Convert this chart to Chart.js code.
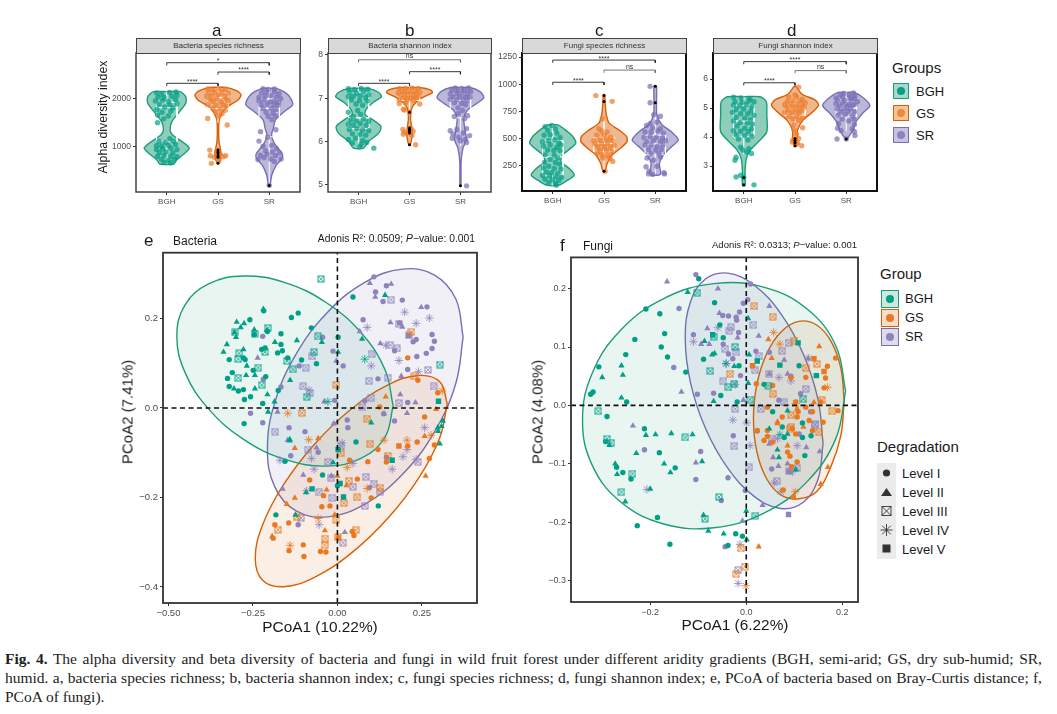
<!DOCTYPE html>
<html>
<head>
<meta charset="utf-8">
<script src="https://cdn.jsdelivr.net/npm/chart.js@4"></script>
<style>
body { margin:0; background:#fff; width:1057px; height:714px; position:relative; overflow:hidden; font-family:"Liberation Sans",sans-serif; color:#1a1a1a; }
canvas { position:absolute; }
.t { position:absolute; white-space:nowrap; line-height:1; }
.rot { position:absolute; white-space:nowrap; line-height:1; transform:translate(-50%,-50%) rotate(-90deg); }
.mid { position:absolute; white-space:nowrap; line-height:1; transform:translate(-50%,-50%); }
.strip { position:absolute; background:#d9d9d9; border:1.5px solid #444; box-sizing:border-box; text-align:center; font-size:8px; line-height:13px; height:16px; top:38px; color:#333; }
.key { position:absolute; box-sizing:border-box; border:1.5px solid; }
.key i { position:absolute; left:50%; top:50%; width:8px; height:8px; margin:-4px; border-radius:50%; }
.cap { position:absolute; left:5px; white-space:nowrap; font-family:"Liberation Serif",serif; font-size:15.5px; line-height:1; color:#222; }
.just { width:1037px; white-space:normal; text-align:justify; text-align-last:justify; }
</style>
</head>
<body>
<canvas id="chartA" width="210" height="174" style="left:94px;top:36px"></canvas>
<canvas id="chartB" width="189" height="174" style="left:306px;top:36px"></canvas>
<canvas id="chartC" width="194" height="174" style="left:496px;top:36px"></canvas>
<canvas id="chartD" width="190" height="174" style="left:691px;top:36px"></canvas>
<canvas id="chartE" width="364" height="392" style="left:118px;top:245px"></canvas>
<canvas id="chartF" width="335" height="385" style="left:528px;top:250px"></canvas>

<div class="t" style="left:212px;top:22px;font-size:17px">a</div>
<div class="t" style="left:405px;top:22px;font-size:17px">b</div>
<div class="t" style="left:595px;top:22px;font-size:17px">c</div>
<div class="t" style="left:787px;top:22px;font-size:17px">d</div>
<div class="strip" style="left:136px;width:165px">Bacteria species richness</div>
<div class="strip" style="left:328px;width:164px">Bacteria shannon index</div>
<div class="strip" style="left:522px;width:165px">Fungi species richness</div>
<div class="strip" style="left:713px;width:165px">Fungi shannon index</div>
<div class="rot" style="left:103px;top:117px;font-size:12.3px">Alpha diversity index</div>

<div class="t" style="left:892px;top:60px;font-size:15px">Groups</div>
<div class="key" style="left:893px;top:83px;width:16px;height:16px;border-color:#1b9e77;background:#a8d8cb"><i style="background:#00a087"></i></div>
<div class="key" style="left:893px;top:105px;width:16px;height:16px;border-color:#d95f02;background:#f6c39b"><i style="background:#ee8a3c"></i></div>
<div class="key" style="left:893px;top:127px;width:16px;height:16px;border-color:#7570b3;background:#c8c5e2"><i style="background:#8e83be"></i></div>
<div class="t" style="left:916px;top:85px;font-size:13px">BGH</div>
<div class="t" style="left:916px;top:107px;font-size:13px">GS</div>
<div class="t" style="left:916px;top:129px;font-size:13px">SR</div>

<div class="t" style="left:144px;top:232px;font-size:17px">e</div>
<div class="t" style="left:173px;top:235px;font-size:12px">Bacteria</div>
<div class="t" style="right:582px;top:234px;font-size:10.3px">Adonis R²: 0.0509; <em>P</em>−value: 0.001</div>
<div class="rot" style="left:127px;top:412px;font-size:15px">PCoA2 (7.41%)</div>
<div class="mid" style="left:320px;top:627px;font-size:15.4px">PCoA1 (10.22%)</div>
<div class="t" style="left:560px;top:237px;font-size:17px">f</div>
<div class="t" style="left:583px;top:240px;font-size:12px">Fungi</div>
<div class="t" style="right:200px;top:240px;font-size:9.5px">Adonis R²: 0.0313; <em>P</em>−value: 0.001</div>
<div class="rot" style="left:537px;top:412px;font-size:15px">PCoA2 (4.08%)</div>
<div class="mid" style="left:735px;top:625px;font-size:15.4px">PCoA1 (6.22%)</div>

<div class="t" style="left:880px;top:266px;font-size:15px">Group</div>
<div class="key" style="left:881px;top:290px;width:18px;height:18px;border-color:#1b9e77;background:#cfe7e0"><i style="background:#00a087"></i></div>
<div class="key" style="left:881px;top:309px;width:18px;height:18px;border-color:#d95f02;background:#f3ddcd"><i style="background:#e9781e"></i></div>
<div class="key" style="left:881px;top:328px;width:18px;height:18px;border-color:#7570b3;background:#dddbec"><i style="background:#8e83be"></i></div>
<div class="t" style="left:905px;top:292px;font-size:13px">BGH</div>
<div class="t" style="left:905px;top:311px;font-size:13px">GS</div>
<div class="t" style="left:905px;top:330px;font-size:13px">SR</div>

<div class="t" style="left:877px;top:439px;font-size:15px">Degradation</div>
<svg style="position:absolute;left:877px;top:463px" width="19" height="96">
<rect width="19" height="96" fill="#ebebeb"/>
<circle cx="9.5" cy="10" r="3.6" fill="#333"/>
<path d="M9.5 25 L15 33 L4 33 Z" fill="#333"/>
<g fill="none" stroke="#333" stroke-width="0.9"><rect x="5" y="43.5" width="9" height="9"/><path d="M5 43.5 L14 52.5 M14 43.5 L5 52.5"/></g>
<path d="M9.5 61 V73 M3.5 67 H15.5 M5.2 62.7 L13.8 71.3 M13.8 62.7 L5.2 71.3" stroke="#333" stroke-width="0.9"/>
<rect x="5.5" y="81.5" width="8" height="8" fill="#333"/>
</svg>
<div class="t" style="left:902px;top:467px;font-size:13px">Level I</div>
<div class="t" style="left:902px;top:486px;font-size:13px">Level II</div>
<div class="t" style="left:902px;top:505px;font-size:13px">Level III</div>
<div class="t" style="left:902px;top:524px;font-size:13px">Level IV</div>
<div class="t" style="left:902px;top:543px;font-size:13px">Level V</div>

<div class="cap just" style="top:651px"><b>Fig. 4.</b> The alpha diversity and beta diversity of bacteria and fungi in wild fruit forest under different aridity gradients (BGH, semi-arid; GS, dry sub-humid; SR,</div>
<div class="cap just" style="top:670px">humid. a, bacteria species richness; b, bacteria shannon index; c, fungi species richness; d, fungi shannon index; e, PCoA of bacteria based on Bray-Curtis distance; f,</div>
<div class="cap" style="top:689px">PCoA of fungi).</div>

<script>
// groups and colours
var groups = ["BGH","GS","SR"];
var lineCols = ["#1b9e77","#d95f02","#7570b3"];
var fillCols = ["rgba(27,158,119,0.5)","rgba(217,95,2,0.45)","rgba(117,112,179,0.5)"];
var dotCols = ["rgba(0,160,135,0.7)","rgba(238,125,45,0.72)","rgba(120,110,182,0.7)"];
var solidCols = ["#00a087","#e9781e","#8e83be"];
var paleCols = ["rgba(27,158,119,0.1)","rgba(217,95,2,0.1)","rgba(117,112,179,0.1)"];

// violin outlines: value, half width
var aVals = [[2155,2050,1908,1732,1520,1345,1240,1060,958,852,710,627],[2246,2170,2085,1980,1800,1590,1380,1100,923,782,640],[2225,2085,1887,1732,1556,1380,1240,1060,852,747,606,394,170]];
var aWide = [[.26,.37,.37,.25,.10,.065,.115,.35,.44,.35,.19,.14],[.16,.37,.45,.39,.14,.03,.013,.02,.05,.06,.013],[.14,.37,.46,.29,.12,.08,.045,.10,.25,.25,.14,.05,.013]];
var bVals = [[7.23,7.14,7.04,6.91,6.73,6.62,6.52,6.35,6.19,6,5.85],[7.25,7.19,7.13,7.04,6.91,6.77,6.54,6.31,6.12,5.92],[7.25,7.15,7.02,6.88,6.73,6.54,6.27,6.04,5.85,5.54,4.98]];
var bWide = [[.19,.39,.45,.29,.14,.13,.26,.44,.39,.19,.10],[.19,.42,.45,.29,.13,.045,.02,.045,.05,.013],[.19,.39,.46,.32,.14,.065,.09,.115,.05,.013,.01]];
var cVals = [[626,580,519,457,410,349,287,225,164,117,71],[904,812,719,642,580,519,472,411,349,272,200],[981,842,719,627,565,488,426,349,272,170]];
var cWide = [[.10,.245,.39,.45,.35,.19,.16,.32,.42,.29,.12],[.013,.025,.045,.10,.29,.44,.45,.32,.16,.065,.02],[.025,.025,.032,.13,.31,.45,.32,.16,.08,.10]];
var dVals = [[5.39,5.22,4.76,4.18,3.84,3.55,3.26,2.8,2.32],[5.74,5.47,5.28,5.1,4.87,4.59,4.24,3.95,3.67],[5.54,5.33,5.08,4.82,4.53,4.24,3.93]];
var dWide = [[.32,.44,.45,.45,.29,.13,.05,.025,.025],[.02,.14,.39,.46,.35,.16,.05,.045,.013],[.16,.35,.46,.32,.19,.13,.013]];

// box plots: low, q1, median, q3, high
var aBox = [[627,1110,1820,1930,2155],[1500,1800,2040,2130,2246],[170,1200,1800,2000,2225]];
var bBox = [[5.85,6.3,6.55,7.12,7.23],[6.75,6.95,7.08,7.17,7.25],[5.9,6.55,6.95,7.1,7.25]];
var cBox = [[71,165,330,480,626],[215,380,455,510,680],[170,350,450,530,720]];
var dBox = [[3.4,4,4.55,5.1,5.39],[4.3,4.75,4.97,5.15,5.45],[4.2,4.7,5,5.22,5.54]];

// jittered samples: offset from the group, value
var aPts = [
[[-.2,2130],[-.1,2100],[.05,2140],[.18,2150],[.2,2080],[-.17,2040],[-.05,2030],[.1,2060],[-.22,1960],[-.08,1970],[.03,1950],[.17,1990],[-.15,1890],[.06,1880],[.2,1900],[-.04,1830],[.12,1810],[-.19,1780],[-.09,1720],[.08,1740],[-.18,1660],[.03,1640],[-.18,1500],[-.06,1580],[.06,1160],[-.15,1100],[-.03,1080],[.13,1110],[-.2,1010],[-.1,1000],[.03,1020],[.17,1040],[-.2,930],[-.08,950],[.08,960],[.2,930],[-.14,870],[-.02,880],[.12,860],[-.18,790],[-.05,800],[.08,790],[.2,780],[-.1,720],[.03,700],[.15,720],[-.05,660],[.08,650]],
[[-.2,2210],[-.1,2190],[.02,2220],[.14,2200],[-.18,2130],[-.06,2140],[.08,2150],[.2,2120],[-.22,2060],[-.12,2070],[.01,2090],[.12,2060],[-.16,2000],[-.03,2010],[.17,2010],[-.1,1950],[.06,1940],[.2,1960],[-.2,1880],[-.04,1870],[.1,1880],[.16,1850],[-.1,1800],[.04,1790],[.14,1760],[-.04,1720],[.08,1690],[.02,1640],[-.2,1590],[.18,1450],[-.16,920],[0,920],[-.15,800],[.15,800],[.05,830],[-.13,640],[-.03,880],[.1,780],[-.07,770],[.02,700]],
[[-.12,2220],[-.02,2200],[.1,2210],[-.15,2130],[-.05,2140],[.1,2150],[.19,2110],[-.2,2030],[-.08,2060],[.03,2070],[.14,2040],[.22,2010],[-.2,1960],[-.1,1980],[.02,1940],[.1,1960],[.18,1930],[-.16,1880],[-.04,1890],[.09,1880],[.17,1870],[-.12,1800],[.04,1800],[.13,1780],[-.06,1720],[.07,1700],[-.02,1630],[.12,1640],[.05,1560],[-.17,1310],[.13,1350],[-.2,1110],[-.03,1190],[.05,1020],[-.12,1000],[.14,950],[-.07,900],[.06,880],[.2,860],[-.17,810],[-.04,830],[.12,800],[.23,730],[-.22,720],[-.1,760],[.03,730],[.1,680],[0,175]]
];
var bPts = [
[[-.2,7.22],[-.08,7.2],[.05,7.23],[.18,7.21],[-.17,7.14],[-.04,7.12],[.1,7.15],[.2,7.08],[-.2,7.04],[-.1,7.05],[.03,7.06],[.14,7.02],[-.14,6.96],[.02,6.95],[.17,6.94],[-.05,6.87],[.08,6.84],[-.2,6.68],[-.1,6.58],[.04,6.63],[-.02,6.72],[-.16,6.5],[-.05,6.48],[.1,6.52],[.2,6.47],[-.2,6.4],[-.1,6.38],[.03,6.42],[.15,6.38],[-.18,6.28],[-.03,6.3],[.08,6.27],[.2,6.25],[-.12,6.18],[.03,6.17],[.14,6.15],[-.2,6.05],[-.06,6.08],[.08,6.03],[-.12,5.97],[.05,5.94],[.16,5.98],[.3,5.85],[.02,5.88]],
[[-.2,7.22],[-.08,7.23],[.05,7.24],[.17,7.22],[-.15,7.17],[-.02,7.18],[.1,7.17],[.2,7.14],[-.22,7.12],[-.1,7.13],[.03,7.12],[.14,7.11],[-.17,7.07],[-.04,7.08],[.08,7.06],[.18,7.05],[-.1,7.02],[.02,7],[.13,7.01],[-.2,6.96],[-.05,6.96],[.08,6.95],[-.2,6.88],[-.08,6.9],[.2,6.87],[-.12,6.75],[-.1,6.73],[-.13,6.28],[-.1,6.22],[-.12,6.17],[.03,6.3],[.07,6.24],[-.03,6.2],[.05,6.15],[.12,5.93],[0,6.68]],
[[-.1,7.24],[.02,7.23],[.16,7.24],[-.17,7.18],[-.05,7.17],[.08,7.18],[.2,7.15],[-.2,7.1],[-.08,7.11],[.03,7.12],[.14,7.1],[-.15,7.04],[-.02,7.05],[.1,7.04],[.19,7.03],[-.2,6.98],[-.07,6.97],[.05,6.98],[.13,6.95],[-.12,6.9],[.02,6.88],[.1,6.85],[-.05,6.78],[.04,6.72],[-.04,6.65],[.14,6.6],[-.12,6.58],[.08,6.53],[-.2,6.25],[-.15,6.18],[.12,6.3],[.18,6.14],[-.07,6.28],[.05,6.2],[-.16,6.08],[.1,6.05],[-.03,6.1],[0,6.02],[.12,5.98],[.12,4.98]]
];
var cPts = [
[[-.15,610],[-.02,620],[-.1,575],[.05,590],[-.17,530],[-.05,535],[.08,550],[.14,510],[-.2,470],[-.08,480],[.04,490],[.12,460],[-.18,430],[-.05,440],[.08,420],[.16,440],[-.1,395],[.02,390],[.14,390],[-.15,350],[.03,345],[-.05,310],[.1,320],[-.16,280],[.05,280],[.13,265],[-.08,245],[-.18,230],[.03,225],[.16,220],[-.12,190],[-.02,185],[.1,180],[-.2,160],[-.06,155],[.06,150],[.17,145],[-.15,125],[-.01,120],[.12,115],[-.08,95],[.05,90],[.07,70]],
[[-.16,895],[.16,842],[-.03,680],[-.1,590],[-.05,570],[.06,560],[-.14,530],[0,530],[.13,510],[-.2,480],[-.08,490],[.05,495],[.16,485],[-.17,450],[-.05,455],[.07,460],[.2,440],[-.12,420],[.01,425],[.13,420],[-.07,390],[.05,390],[-.13,365],[.16,375],[-.03,350],[.08,340],[-.02,320],[.12,315],[.17,290],[.02,200]],
[[-.1,980],[-.1,830],[-.03,720],[.1,705],[-.1,640],[.03,650],[-.17,620],[-.05,600],[.1,590],[-.2,560],[-.08,560],[.05,570],[.16,550],[-.22,510],[-.1,520],[.02,510],[.14,505],[-.17,470],[-.04,480],[.1,470],[.2,480],[-.2,440],[-.08,440],[.04,430],[.15,440],[-.13,400],[.01,395],[.12,400],[-.08,360],[.07,360],[-.16,320],[.1,330],[-.03,300],[-.18,240],[-.12,200],[-.05,170],[.17,185],[.03,245],[-.13,175],[.18,175]]
];
var dPts = [
[[-.2,5.37],[-.05,5.35],[.12,5.33],[-.17,5.22],[-.03,5.2],[.1,5.25],[.2,5.22],[-.2,5.1],[-.08,5.08],[.05,5.12],[.16,5.05],[-.15,4.95],[0,4.96],[.14,4.9],[-.22,4.85],[-.06,4.8],[.08,4.8],[.2,4.75],[-.15,4.68],[.02,4.65],[.13,4.6],[-.2,4.55],[-.07,4.5],[.07,4.48],[.17,4.45],[-.13,4.38],[.02,4.3],[.15,4.28],[-.2,4.22],[-.06,4.2],[.09,4.18],[-.15,4.08],[.02,4.05],[.16,4.03],[-.1,3.93],[.08,3.9],[-.06,3.65],[.1,3.6],[-.02,3.55],[.15,3.43],[.06,3.48],[-.15,3.3],[-.17,3.2],[-.15,2.62],[-.06,2.68],[.2,2.35],[0,2.6]],
[[.07,5.72],[0,5.45],[-.12,5.37],[.03,5.38],[.14,5.3],[-.15,5.22],[-.03,5.24],[.1,5.22],[.2,5.18],[-.2,5.12],[-.08,5.14],[.04,5.12],[.15,5.1],[-.17,5.03],[-.04,5.02],[.08,5],[.18,5.03],[-.13,4.93],[.02,4.92],[.13,4.92],[-.2,4.85],[-.06,4.83],[.08,4.82],[-.12,4.72],[.03,4.72],[.14,4.65],[-.04,4.62],[.07,4.57],[-.02,4.42],[.15,4.32],[-.02,4.25],[.03,4.1],[-.04,3.9],[-.05,3.82],[.07,3.95],[.05,3.8],[.13,3.7],[.03,3.75]],
[[-.05,5.5],[.14,5.52],[-.12,5.45],[.05,5.45],[.17,5.42],[-.2,5.35],[-.07,5.38],[.08,5.36],[.16,5.33],[-.17,5.25],[-.03,5.26],[.1,5.27],[.22,5.22],[-.2,5.15],[-.07,5.18],[.05,5.13],[.17,5.14],[-.13,5.06],[.01,5.05],[.12,5.08],[-.18,4.98],[-.04,4.97],[.08,4.98],[-.1,4.88],[.04,4.88],[.16,4.87],[-.16,4.75],[-.02,4.78],[.12,4.72],[-.08,4.62],[.15,4.62],[-.15,4.47],[.05,4.55],[.16,4.43],[-.17,4.3],[.12,4.28],[-.1,4.22],[.16,4.18],[.17,4.05],[-.18,3.93],[0,3.93]]
];

// outliers in black
var aOut = [[],[920,880,850,800,770,640],[170]];
var bOut = [[],[6.68,6.32,6.28,6.24,6.2,5.93],[4.98]];
var cOut = [[],[895,840,200],[980,830]];
var dOut = [[2.6,2.35],[3.95,3.88,3.8,3.7],[3.93]];

// significance brackets: from, to, height, label
var aBrk = [[1,3,2767,"*"],[2,3,2570,"****"],[1,2,2331,"****"]];
var bBrk = [[1,3,7.89,"ns"],[2,3,7.615,"****"],[1,2,7.346,"****"]];
var cBrk = [[1,3,1222,"****"],[2,3,1130,"ns"],[1,2,1018,"****"]];
var dBrk = [[1,3,6.6,"****"],[2,3,6.29,"ns"],[1,2,5.87,"****"]];

// PCoA bacteria, group by degradation level
var eBgh1 = [[-.136,.202],[-.116,.212],[-.259,.197],[-.246,.164],[-.207,.171],[-.167,.166],[-.077,.179],[-.32,.108],[-.311,.079],[-.325,.066],[-.32,.048],[-.293,.038],[-.278,.041],[-.275,.019],[-.257,.025],[-.221,.01],[-.276,-.035],[-.273,.108],[-.278,.112],[-.224,.131],[-.214,.134],[-.177,.123],[-.163,.128],[-.167,.142],[-.147,.112],[-.106,.107],[-.062,.099],[-.175,.039],[-.212,.07],[-.249,.084],[.002,.158],[.046,.248],[-.218,.217],[.055,-.076],[-.155,-.119],[-.182,-.239],[-.044,-.15],[.121,-.219],[0,-.174]];
var eBgh2 = [[-.298,.192],[-.286,.18],[-.276,.189],[-.246,.175],[-.304,.169],[-.3,.158],[-.327,.142],[-.337,.125],[-.278,.131],[-.268,.094],[-.244,.073],[-.27,.073],[-.306,.043],[-.244,.043],[-.207,.03],[-.186,.014],[-.205,-.009],[-.185,.147],[-.12,.151],[-.046,.147],[.002,.125],[.073,.154],[-.14,.062],[.141,.252],[-.219,.221],[-.209,.173],[-.141,-.07],[.1,-.033],[.297,-.044],[.312,-.029],[-.013,-.122],[-.141,-.073],[-.093,-.189],[-.124,-.239],[.303,-.08],[.298,-.052],[.308,-.041]];
var eBgh3 = [[-.049,.288],[-.303,.169],[-.245,.166],[-.206,.179],[-.057,.16],[-.291,.122],[-.293,.109],[-.234,.09],[-.214,.125],[-.15,.105],[-.131,.086],[-.069,.125],[-.293,.067],[-.224,.051],[-.091,.025],[.303,.097]];
var eBgh4 = [[.081,.109],[-.028,.014]];
var eBgh5 = [[.299,.015],[.162,-.117],[-.075,-.181],[.018,-.199],[.008,-.169],[.002,-.093]];
var eGs1 = [[-.19,-.291],[-.185,-.261],[-.144,-.257],[-.143,-.319],[-.101,-.306],[-.099,-.332],[-.05,-.321],[-.034,-.322],[.002,-.29],[.044,-.276],[.049,-.285],[-.046,-.221],[-.022,-.219],[-.082,-.161],[-.041,-.196],[.059,-.159],[.09,-.12],[.145,-.121],[.1,-.201],[.272,-.113],[.236,-.076],[.208,-.085],[.12,-.093],[.036,-.117],[.287,-.083],[.125,.002],[.258,-.02],[.297,.034],[.208,.112],[.238,.062]];
var eGs2 = [[-.193,-.287],[-.037,-.274],[-.126,-.201],[-.15,-.215],[-.032,-.183],[-.008,-.239],[.027,-.173],[0,-.152],[.261,-.152],[.258,-.063],[-.126,-.09],[.143,.025],[.292,-.003],[-.057,-.068]];
var eGs3 = [[-.176,-.272],[-.12,-.244],[-.036,-.292],[-.038,-.307],[.054,-.273],[.002,-.289],[-.003,-.25],[.019,-.213],[.059,-.2],[.034,-.163],[.127,-.178],[.096,-.08],[.01,-.101],[.149,-.107],[-.003,.052],[-.105,-.011],[.219,.17],[.087,-.024],[.228,.071]];
var eGs4 = [[-.14,-.307],[-.057,-.247],[.029,-.133],[.088,-.18],[.206,-.072],[.138,-.072],[.277,-.061],[-.085,-.071],[-.147,-.012],[.31,.038]];
var eGs5 = [[.182,-.085]];
var eSr1 = [[.108,.293],[.145,.273],[.113,.259],[.135,.238],[.192,.241],[.265,.226],[.076,.197],[.184,.19],[.28,.164],[.287,.149],[.233,.153],[.224,.148],[.28,.133],[.169,.128],[.235,.115],[.263,.122],[.208,.086],[.12,.065],[.017,.094],[-.013,.127],[-.044,.158],[-.221,.16],[-.113,.094],[-.167,.047],[-.257,-.012],[-.221,-.033],[-.143,-.044],[-.096,-.053],[.081,.016],[.029,-.027],[.137,-.013],[.169,-.029],[.208,.012],[-.138,-.107],[-.057,-.099],[.031,-.044],[-.116,-.261],[.095,-.178],[.145,-.11],[-.219,.064],[-.008,.017]];
var eSr2 = [[.096,.279],[.159,.277],[.112,.248],[.248,.225],[.157,.191],[.192,.181],[.127,.144],[.066,.171],[-.236,.112],[-.003,.105],[-.039,.014],[-.177,-.009],[.206,-.012],[.186,.03],[.231,.012],[.138,-.013],[-.011,-.035],[.189,.071],[-.147,-.072],[-.101,-.15],[-.162,-.181],[.022,-.278],[-.062,-.089],[-.018,-.152]];
var eSr3 = [[.159,.242],[.182,.188],[.211,.162],[.176,.133],[.157,.14],[.101,.12],[-.074,.115],[-.094,.09],[.268,.085],[.094,.06],[.149,.068],[.285,.048],[-.101,.048],[-.082,.033],[.1,.023],[.181,.011],[.074,.003],[-.185,-.053],[-.087,-.093],[-.028,-.121],[-.018,-.156],[.084,-.154],[.108,-.169],[.127,-.187],[.046,-.176],[-.054,-.189],[.081,-.219],[-.108,-.246],[.017,-.301],[.01,-.085],[.238,-.12],[-.015,-.201]];
var eSr4 = [[.199,.214],[.272,.201],[.233,.189],[.088,.18],[.182,.106],[.24,.081],[.143,.14],[.1,.094],[-.084,.04],[.258,-.044],[-.17,-.117],[-.077,-.113],[-.069,-.137],[.162,-.137],[.194,-.109],[.233,-.115],[-.054,-.261],[-.091,-.185],[.046,-.124],[.014,-.078],[.206,-.093]];
var eSr5 = [[.211,.162]];

// PCoA fungi
var fBgh1 = [[-.099,.217],[-.209,.165],[-.18,.157],[-.17,.123],[-.232,.113],[-.177,.1],[-.164,.083],[-.251,.087],[-.307,.066],[-.319,.023],[-.324,.019],[-.249,.006],[-.29,-.019],[-.212,-.04],[-.126,.057],[-.066,.176],[-.055,.138],[-.048,.116],[-.089,.079],[-.053,.017],[-.019,.006],[-.015,.068],[.037,.036],[.055,-.011],[.11,.068],[.117,-.03],[-.293,-.062],[-.27,-.106],[-.257,-.115],[-.24,-.126],[-.181,-.081],[-.148,-.107],[-.185,-.192],[-.227,-.206],[-.159,-.238],[-.038,-.24],[-.022,-.22],[-.008,-.224],[.079,-.055],[.122,-.086],[.135,-.052],[.117,-.055],[.075,-.037]];
var fBgh2 = [[-.122,.194],[.004,.149],[-.066,.089],[-.071,.087],[-.087,.11],[.006,.087],[-.025,.067],[-.068,.007],[.004,.038],[-.26,.068],[-.3,.048],[-.257,.052],[-.26,.013],[-.209,-.051],[-.189,-.05],[-.156,-.048],[-.112,-.05],[.086,-.009],[-.285,-.068],[-.273,-.1],[-.269,-.118],[-.229,-.082],[-.171,-.1],[-.158,-.115],[-.092,-.096],[-.2,-.143],[-.252,-.165],[-.089,-.188],[-.079,-.215],[-.047,-.22],[.001,-.23],[0,-.181],[.048,-.04],[.065,-.076],[.068,-.089],[.103,-.11],[.086,-.049]];
var fBgh3 = [[-.102,.193],[-.068,.118],[-.075,.059],[-.037,.031],[-.023,.1],[-.025,.037],[.008,.01],[.046,.034],[.119,.011],[-.308,-.01],[-.29,-.057],[-.127,-.055],[-.281,-.064],[-.237,-.117],[-.26,-.149],[-.057,-.157],[.019,-.189],[-.086,-.194]];
var fBgh4 = [[-.042,.072],[.07,-.05]];
var fBgh5 = [[-.07,.121],[.07,.069],[.146,.051],[.108,.107],[.023,.076]];
var fGs1 = [[.186,.081],[.169,.067],[.165,.047],[.162,.03],[.191,-.009],[.124,.048],[.093,.048],[.021,.037],[.055,.034],[.103,.006],[.124,-.003],[.108,-.011],[.138,-.011],[.155,.006],[.044,-.003],[.075,-.02],[.106,-.02],[.096,-.04],[.138,-.043],[.131,-.026],[.044,-.043],[.023,-.043],[.037,-.06],[.044,-.053],[.086,-.08],[.091,-.087],[.106,-.097],[.094,-.105],[.077,-.145],[.098,-.157],[.055,-.063],[.103,-.049],[.16,-.029]];
var fGs2 = [[.152,.101],[.053,.081],[.046,.113],[.141,.005],[.106,-.006],[.065,-.028],[.119,-.037],[.065,-.031],[.17,-.106],[.155,-.135],[.026,-.242],[.086,-.069]];
var fGs3 = [[.017,.17],[.055,.152],[.1,.111],[-.034,.054],[.124,.064],[.147,.071],[.179,-.01],[.055,.02],[.093,-.017],[.151,-.046],[.157,.009],[.094,-.037],[-.011,-.245],[-.003,-.276],[-.021,-.289],[.091,-.04]];
var fGs4 = [[.057,.125],[.07,.105],[.169,.031],[-.001,-.309],[.102,-.148],[.103,.003]];
var fGs5 = [[.162,.058],[.141,.08],[.013,.068]];
var fSr1 = [[-.105,.224],[.009,.208],[.003,.181],[-.006,.175],[-.14,.166],[-.014,.16],[-.037,.153],[-.049,.154],[-.021,.151],[-.02,.146],[-.11,.121],[-.016,.125],[-.048,.105],[-.037,.088],[-.028,.08],[-.151,.065],[-.012,.051],[-.102,.019],[-.068,.021],[.02,.093],[.048,.091],[.093,.05],[.113,.02],[.068,.009],[.134,-.011],[-.027,-.052],[.023,-.044],[-.212,-.076],[-.095,-.079],[-.105,-.127],[-.038,-.124],[-.052,-.163],[-.002,-.146],[-.044,-.242],[.053,-.109],[.11,-.049]];
var fSr2 = [[-.165,.212],[-.059,.2],[-.056,.158],[.048,.17],[-.081,.132],[.026,.119],[-.018,.116],[-.094,.105],[-.077,.105],[.079,.078],[.048,.054],[.086,.054],[.129,.08],[-.135,.023],[-.006,.009],[-.236,-.035],[-.105,-.098],[.034,-.171],[-.008,-.198],[.056,-.089],[.067,-.104],[.086,-.1],[.125,-.072],[.153,-.079],[.048,-.066]];
var fSr3 = [[.015,.138],[-.032,.134],[-.035,.128],[-.044,.097],[-.021,.091],[.027,.084],[.018,.06],[-.048,.041],[.048,.054],[.075,.093],[.088,.107],[.124,.028],[.079,.005],[.03,-.006],[-.023,-.006],[.144,-.032],[-.025,-.07],[.006,-.106],[.064,-.13],[.106,-.107],[.089,-.113],[.053,-.057],[-.017,-.282],[.143,-.033]];
var fSr4 = [[-.059,.133],[-.11,.109],[-.042,.071],[-.023,.036],[-.028,-.025],[.001,-.03],[.068,.048],[.093,.042],[.129,.081],[-.207,-.144],[.008,-.069],[.058,-.133],[.072,-.148],[.065,-.057],[.096,-.114],[.106,-.069],[-.013,-.238],[-.017,-.305]];
var fSr5 = [[.088,-.187],[.089,-.113]];

// ellipse outlines
var eRing = [
[[.165,.0045],[.1407,.0861],[.0712,.1671],[-.0324,.2352],[-.155,.2801],[-.2776,.295],[-.3812,.2773],[-.4507,.2303],[-.475,.1605],[-.4507,.0789],[-.3812,-.0021],[-.2776,-.0702],[-.155,-.1151],[-.0324,-.13],[.0712,-.1123],[.1407,-.0653],[.165,.0045]],
[[.325,.0095],[.3034,.0581],[.2418,.0726],[.1498,.0516],[.041,-.0025],[-.0678,-.081],[-.1598,-.172],[-.2214,-.2617],[-.243,-.3365],[-.2214,-.3851],[-.1598,-.3996],[-.0678,-.3786],[.041,-.3245],[.1498,-.246],[.2418,-.155],[.3034,-.0653],[.325,.0095]],
[[.372,.1585],[.35,.2439],[.2872,.2971],[.1934,.3104],[.0825,.2813],[-.0284,.2146],[-.1222,.1203],[-.185,.0129],[-.207,-.0915],[-.185,-.1769],[-.1222,-.2301],[-.0284,-.2434],[.0825,-.2143],[.1934,-.1476],[.2872,-.0533],[.35,.0541],[.372,.1585]]
];
var fRing = [
[[.207,.0245],[.1862,.1026],[.1267,.165],[.0379,.2022],[-.067,.2085],[-.1719,.183],[-.2607,.1296],[-.3202,.0564],[-.341,-.0255],[-.3202,-.1036],[-.2607,-.166],[-.1719,-.2032],[-.067,-.2095],[.0379,-.184],[.1267,-.1306],[.1862,-.0574],[.207,.0245]],
[[.204,.007],[.1968,.0641],[.1763,.1101],[.1457,.1381],[.1095,.144],[.0733,.1267],[.0427,.0889],[.0222,.0364],[.015,-.023],[.0222,-.0801],[.0427,-.1261],[.0733,-.1542],[.1095,-.16],[.1457,-.1485],[.1763,-.1049],[.1968,-.0523],[.204,.007]],
[[.16,-.065],[.1491,.011],[.118,.0892],[.0715,.1576],[.0165,.2058],[-.0385,.2266],[-.085,.2164],[-.1161,.1774],[-.127,.115],[-.1161,.039],[-.085,-.0392],[-.0385,-.1076],[.0165,-.1558],[.0715,-.1766],[.118,-.1664],[.1491,-.1274],[.16,-.065]]
];

// axis ticks
var aTicks = [1000,2000], bTicks = [5,6,7,8], cTicks = [250,500,750,1000,1250], dTicks = [3,4,5,6];
var eXTicks = [-.5,-.25,0,.25], eYTicks = [-.4,-.2,0,.2];
var eXLabels = ["−0.50","−0.25","0.00","0.25"], eYLabels = ["−0.4","−0.2","0.0","0.2"];
var fXTicks = [-.2,0,.2], fYTicks = [-.3,-.2,-.1,0,.1,.2];
var fXLabels = ["−0.2","0.0","0.2"], fYLabels = ["−0.3","−0.2","−0.1","0.0","0.1","0.2"];

Chart.defaults.font.family = '"Liberation Sans", sans-serif';
Chart.defaults.animation = false;

// fills the closed outlines, frames the panel, writes bracket labels
var panelPlugin = {
  id: "panel",
  beforeDatasetDraw: function(chart, args) {
    var ds = chart.data.datasets[args.index];
    if (!ds.closedFill) return;
    var ctx = chart.ctx;
    ctx.save();
    ctx.beginPath();
    args.meta.dataset.path(ctx);
    ctx.closePath();
    ctx.fillStyle = ds.closedFill;
    ctx.fill();
    ctx.restore();
  },
  afterDraw: function(chart) {
    var ctx = chart.ctx, a = chart.chartArea, o = chart.options.plugins.panel;
    ctx.save();
    ctx.strokeStyle = o.color;
    ctx.lineWidth = o.width;
    ctx.strokeRect(a.left, a.top, a.right - a.left, a.bottom - a.top);
    ctx.fillStyle = "#333";
    ctx.textAlign = "center";
    ctx.textBaseline = "bottom";
    ctx.font = '7px "Liberation Sans"';
    (o.notes || []).forEach(function(b) {
      var stars = b[3] != "ns";
      var px = chart.scales.x.getPixelForValue((b[0] + b[1]) / 2);
      var py = chart.scales.y.getPixelForValue(b[2]);
      ctx.fillText(b[3], px, py + (stars ? 2 : 0));
    });
    ctx.restore();
  }
};

function xyList(pairs) {
  return pairs.map(function(p) { return {x:p[0], y:p[1]}; });
}

function axis(ticks, labels, size, fixed) {
  return {
    type: "linear",
    afterBuildTicks: function(s) { s.ticks = ticks.map(function(v) { return {value:v}; }); },
    afterFit: function(s) { if (s.isHorizontal()) s.height = fixed; else s.width = fixed; },
    border: {display:false},
    grid: {drawOnChartArea:false, drawTicks:true, tickLength:3, color:"#333"},
    ticks: {autoSkip:false, maxRotation:0, padding:2, color:"#4d4d4d", font:{size:size},
      callback: function(v, i) { return labels ? labels[i] : v; }}
  };
}

function violin(id, vals, wide, box, pts, outl, brk, tipLen, ticks, yMin, yMax, left, bottom, right, frame) {
  var sets = [];
  brk.forEach(function(b) {
    sets.push({data:xyList([[b[0],b[2]-tipLen],[b[0],b[2]],[b[1],b[2]],[b[1],b[2]-tipLen]]), showLine:true, pointRadius:0, borderColor:b[3]=="ns"?"#666":"#222", borderWidth:0.9, order:1});
  });
  groups.forEach(function(g, i) {
    var up = vals[i].map(function(v, k) { return [i+1+wide[i][k], v]; });
    var down = vals[i].map(function(v, k) { return [i+1-wide[i][k], v]; }).reverse();
    var outline = [[i+1, vals[i][0]]].concat(up, down, [[i+1, vals[i][0]]]);
    sets.push({data:xyList(outline), showLine:true, pointRadius:0, tension:0.25, borderColor:lineCols[i], borderWidth:1.4, closedFill:fillCols[i], order:6});
    var q = box[i];
    var rect = [[i+1,q[0]],[i+1,q[1]],[i+1-.2,q[1]],[i+1-.2,q[2]],[i+1+.2,q[2]],[i+1-.2,q[2]],[i+1-.2,q[3]],[i+1,q[3]],[i+1,q[4]],[i+1,q[3]],[i+1+.2,q[3]],[i+1+.2,q[1]],[i+1,q[1]]];
    sets.push({data:xyList(rect), showLine:true, pointRadius:0, borderColor:"#fff", borderWidth:1, order:5});
    sets.push({data:pts[i].map(function(p) { return {x:i+1+p[0], y:p[1]}; }), pointRadius:2.7, pointBackgroundColor:dotCols[i], pointBorderWidth:0, order:4});
    sets.push({data:outl[i].map(function(v) { return {x:i+1, y:v}; }), pointRadius:1.5, pointBackgroundColor:"#000", pointBorderWidth:0, order:3});
  });
  var xAxis = axis([1,2,3], groups, 8, bottom);
  xAxis.min = 0.4; xAxis.max = 3.6;
  var yAxis = axis(ticks, null, 8.5, left);
  yAxis.min = yMin; yAxis.max = yMax;
  new Chart(id, {
    type: "scatter",
    data: {datasets: sets},
    plugins: [panelPlugin],
    options: {
      responsive: false,
      layout: {padding: {top:17, right:right, left:0, bottom:0}},
      scales: {x:xAxis, y:yAxis},
      plugins: {legend:{display:false}, tooltip:{enabled:false}, panel:{color:frame[0], width:frame[1], notes:brk}}
    }
  });
}

// boxed cross marker for level III
function boxMark(col) {
  var c = document.createElement("canvas");
  c.width = 8; c.height = 8;
  var g = c.getContext("2d");
  g.strokeStyle = col; g.lineWidth = 1;
  g.globalAlpha = 0.95;
  g.strokeRect(1, 1, 6, 6);
  g.lineWidth = 0.8;
  g.beginPath();
  g.moveTo(1,1); g.lineTo(7,7); g.moveTo(7,1); g.lineTo(1,7);
  g.stroke();
  return c;
}

function pcoa(id, levels, rings, xT, xL, yT, yL, xr, yr, left, bottom, top, tickSize) {
  var sets = [];
  // dashed axes through zero
  sets.push({data:xyList([[xr[0],0],[xr[1],0]]), showLine:true, pointRadius:0, borderColor:"#111", borderWidth:1.6, borderDash:[5,3.5], order:2});
  sets.push({data:xyList([[0,yr[0]],[0,yr[1]]]), showLine:true, pointRadius:0, borderColor:"#111", borderWidth:1.6, borderDash:[5,3.5], order:2});
  groups.forEach(function(g, i) {
    var lv = levels[i], col = solidCols[i];
    sets.push({data:xyList(lv[0]), pointStyle:"circle", pointRadius:2.7, pointBackgroundColor:col, pointBorderWidth:0, order:3});
    sets.push({data:xyList(lv[1]), pointStyle:"triangle", pointRadius:3.6, pointBackgroundColor:col, pointBorderWidth:0, order:3});
    sets.push({data:xyList(lv[2]), pointStyle:boxMark(col), pointRadius:4, order:3});
    sets.push({data:xyList(lv[3]), pointStyle:"star", pointRadius:4.2, pointBorderColor:col, pointBorderWidth:0.8, order:3});
    sets.push({data:xyList(lv[4]), pointStyle:"rect", pointRadius:3.8, pointBackgroundColor:col, pointBorderWidth:0, order:3});
    sets.push({data:xyList(rings[i]), showLine:true, pointRadius:0, tension:0.4, borderColor:lineCols[i], borderWidth:1.4, closedFill:paleCols[i], order:6});
  });
  var xAxis = axis(xT, xL, tickSize, bottom);
  xAxis.min = xr[0]; xAxis.max = xr[1];
  var yAxis = axis(yT, yL, tickSize, left);
  yAxis.min = yr[0]; yAxis.max = yr[1];
  new Chart(id, {
    type: "scatter",
    data: {datasets: sets},
    plugins: [panelPlugin],
    options: {
      responsive: false,
      layout: {padding: {top:top, right:4, left:0, bottom:0}},
      scales: {x:xAxis, y:yAxis},
      plugins: {legend:{display:false}, tooltip:{enabled:false}, panel:{color:"#333", width:1.8}}
    }
  });
}

violin("chartA", aVals, aWide, aBox, aPts, aOut, aBrk, 56, aTicks, 34, 2972, 42, 18, 3, ["#444",1.5]);
violin("chartB", bVals, bWide, bBox, bPts, bOut, bBrk, .06, bTicks, 4.838, 8.046, 22, 18, 3, ["#444",1.5]);
violin("chartC", cVals, cWide, cBox, cPts, cOut, cBrk, 25, cTicks, 17.5, 1287, 26, 19, 3, ["#111",2]);
violin("chartD", dVals, dWide, dBox, dPts, dOut, dBrk, .09, dTicks, 2.138, 6.897, 22, 19, 3, ["#111",2]);

pcoa("chartE", [[eBgh1,eBgh2,eBgh3,eBgh4,eBgh5],[eGs1,eGs2,eGs3,eGs4,eGs5],[eSr1,eSr2,eSr3,eSr4,eSr5]], eRing,
  eXTicks, eXLabels, eYTicks, eYLabels, [-.516,.413], [-.436,.347], 45, 34, 6, 9.5);
pcoa("chartF", [[fBgh1,fBgh2,fBgh3,fBgh4,fBgh5],[fGs1,fGs2,fGs3,fGs4,fGs5],[fSr1,fSr2,fSr3,fSr4,fSr5]], fRing,
  fXTicks, fXLabels, fYTicks, fYLabels, [-.365,.2327], [-.3368,.2535], 43, 33, 7, 9);
</script>
</body>
</html>
